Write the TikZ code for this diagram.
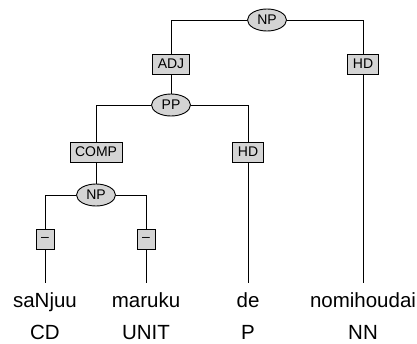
\documentclass[tikz,border=0pt]{standalone}
\usepackage{fontspec}
\setmainfont{Liberation Sans}
\usepackage{tikz}
\usetikzlibrary{shapes.geometric,positioning}

\begin{document}
\begin{tikzpicture}[x=1pt,y=-1pt,line width=0.9pt,
    cat/.style = {ellipse,draw=black,fill=black!17,minimum width=39pt,
        minimum height=22pt,inner sep=0pt,font=\fontsize{14}{16}\selectfont},
    fun/.style = {rectangle,draw=black,fill=black!17,minimum height=20pt,
        minimum width=18pt,inner xsep=5pt,inner ysep=0pt,
        font=\fontsize{14}{16}\selectfont},
    word/.style = {anchor=base,text height=15pt,text depth=4pt,inner ysep=9pt,
        inner xsep=0pt,font=\fontsize{20.5}{22}\selectfont},
    tag/.style = {anchor=base,inner sep=0pt,font=\fontsize{20.5}{22}\selectfont}]
  \useasboundingbox (0,0) rectangle (417,343);
  % categories
  \node[cat] (np1) at (267,20) {NP};
  \node[cat] (pp) at (171,105) {PP};
  \node[cat] (np2) at (96,195) {NP};
  % functions
  \node[fun] (adj) at (171,64) {ADJ}; \node[fun] (hd1) at (363,64) {HD};
  \node[fun] (comp) at (96,152) {COMP}; \node[fun] (hd2) at (248,152) {HD};
  \node[fun] (d1) at (45,239) {--}; \node[fun] (d2) at (146,239) {--};
  % words and tags
  \node[word] (w1) at (45,307) {saNjuu}; \node[tag] (t1) at (45,339) {CD};
  \node[word] (w2) at (146,307) {maruku}; \node[tag] (t2) at (146,339) {UNIT};
  \node[word] (w3) at (248,307) {de}; \node[tag] (t3) at (248,339) {P};
  \node[word] (w4) at (363,307) {nomihoudai}; \node[tag] (t4) at (363,339) {NN};
  % edges
  \draw (np1) -| (adj); \draw (np1) -| (hd1);
  \draw (adj) -- (pp); \draw (hd1) -- (w4);
  \draw (pp) -| (comp); \draw (pp) -| (hd2);
  \draw (comp) -- (np2); \draw (hd2) -- (w3);
  \draw (np2) -| (d1); \draw (np2) -| (d2);
  \draw (d1) -- (w1); \draw (d2) -- (w2);
\end{tikzpicture}
\end{document}
